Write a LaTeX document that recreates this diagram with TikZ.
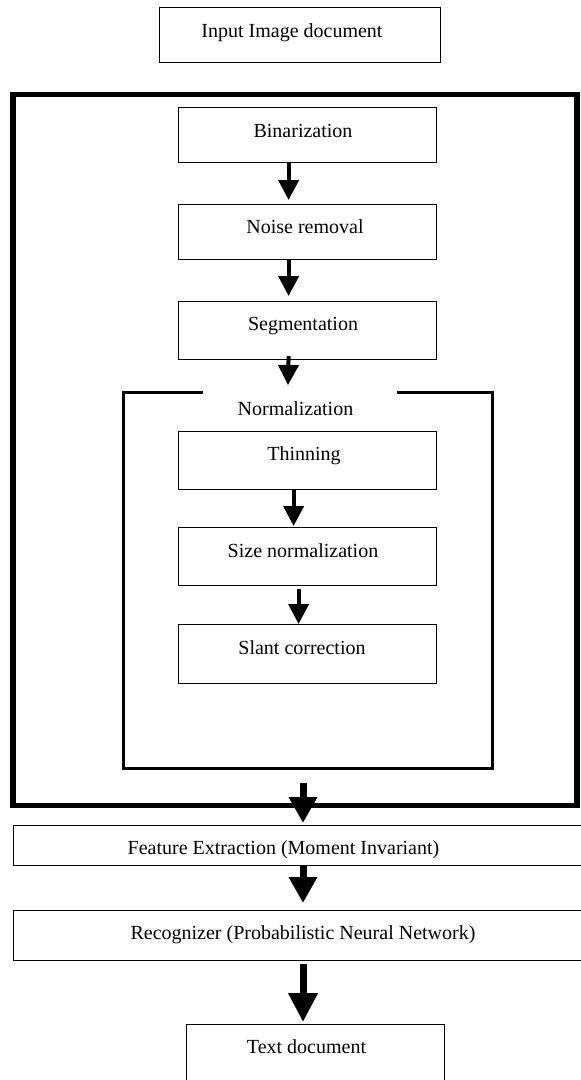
\documentclass[tikz,border=0pt]{standalone}
\usepackage{fontspec}
\setmainfont{Liberation Serif}
\usetikzlibrary{arrows.meta}
\begin{document}
\begin{tikzpicture}[x=1pt,y=-1pt,
  box/.style={draw, line width=1.2pt, inner sep=0pt, anchor=north west},
  lbl/.style={anchor=base, inner sep=0pt, font=\fontsize{20}{24}\selectfont},
  arrS/.style={line width=4pt, -{Triangle[length=20pt,width=20pt]}},
  arrL/.style={line width=7pt, -{Triangle[length=26pt,width=27pt]}},
  arrXL/.style={line width=7pt, -{Triangle[length=29pt,width=28pt]}}]
\useasboundingbox (0,0) rectangle (581,1080);
% boxes
\node[box, minimum width=281pt, minimum height=55pt] (inp) at (159,7) {};
\node[box, minimum width=258pt, minimum height=55pt] (bin) at (178,107) {};
\node[box, minimum width=258pt, minimum height=55pt] (noise) at (178,204) {};
\node[box, minimum width=258pt, minimum height=58pt] (seg) at (178,301) {};
\node[box, minimum width=258pt, minimum height=58pt] (thin) at (178,431) {};
\node[box, minimum width=258pt, minimum height=58pt] (size) at (178,527) {};
\node[box, minimum width=258pt, minimum height=59pt] (slant) at (178,624) {};
\node[box, minimum width=572pt, minimum height=40pt] (feat) at (13,825) {};
\node[box, minimum width=572pt, minimum height=50pt] (rec) at (13,910) {};
\node[box, minimum width=258pt, minimum height=70pt] (txt) at (186,1024) {};
% labels
\node[lbl] (tinp) at (292,37) {Input Image document};
\node[lbl] (tbin) at (303,137) {Binarization};
\node[lbl] (tnoise) at (305,233) {Noise removal};
\node[lbl] (tseg) at (303,330) {Segmentation};
\node[lbl] (tnorm) at (295.5,415) {Normalization};
\node[lbl] (tthin) at (304,460) {Thinning};
\node[lbl] (tsize) at (303,557) {Size normalization};
\node[lbl] (tslant) at (302,654) {Slant correction};
\node[lbl] (tfeat) at (283.5,854) {Feature Extraction (Moment Invariant)};
\node[lbl] (trec) at (303,939) {Recognizer (Probabilistic Neural Network)};
\node[lbl] (ttxt) at (306.5,1053) {Text document};
% outer thick frame and normalization bracket
\draw[line width=5.5pt] (13,94.5) rectangle (577,805.5);
\draw[line width=3pt] (203,392) -- (123,392) -- (123,768) -- (492,768) -- (492,392) -- (397,392);
\coordinate (normtop) at (307,392);
\coordinate (mainbot) at (303,805.5);
% vertical guide coordinates for the lower arrows
\coordinate (a6e) at (feat.north -| mainbot);
\coordinate (a7s) at (feat.south -| mainbot);
\coordinate (a7e) at (rec.north -| mainbot);
\coordinate (a8s) at (rec.south -| mainbot);
\coordinate (a8e) at (txt.north -| mainbot);
% arrows
\draw[arrS] ([xshift=-19pt]bin.south) -- ([xshift=-19pt,yshift=4pt]noise.north);
\draw[arrS] ([xshift=-19pt]noise.south) -- ([xshift=-19pt,yshift=5pt]seg.north);
\draw[arrS] ([xshift=-19pt,yshift=4pt]seg.south) -- ([xshift=-19pt,yshift=7pt]normtop);
\draw[arrS] ([xshift=-14pt]thin.south) -- ([xshift=-14pt,yshift=1pt]size.north);
\draw[arrS] ([xshift=-9pt,yshift=-3pt]size.south) -- ([xshift=-9pt]slant.north);
\draw[arrL] ([yshift=22.5pt]mainbot) -- ([yshift=2pt]a6e);
\draw[arrL] (a7s) -- ([yshift=7pt]a7e);
\draw[arrXL] ([yshift=-3pt]a8s) -- ([yshift=2pt]a8e);
\end{tikzpicture}
\end{document}
